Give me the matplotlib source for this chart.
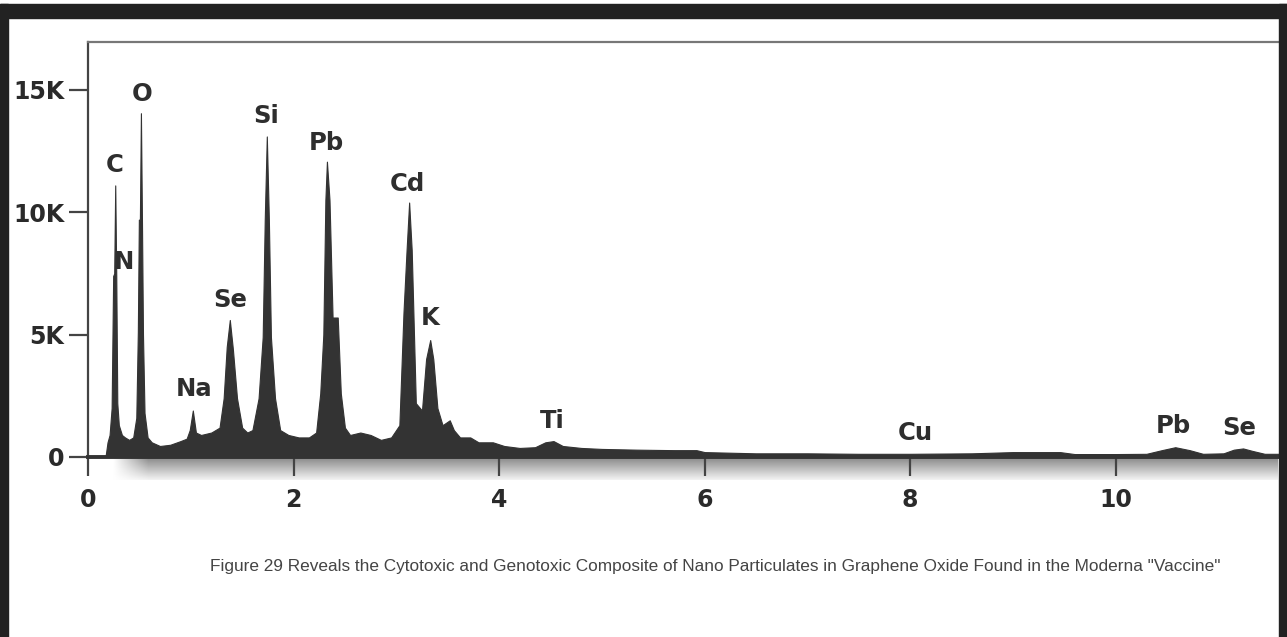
import numpy as np
import matplotlib
matplotlib.use("Agg")
import matplotlib.pyplot as plt
from matplotlib.patches import Rectangle
from matplotlib.ticker import FuncFormatter

# ---- data (energy keV, counts) ----
energy = [0.17, 0.19, 0.21, 0.23, 0.245, 0.255, 0.265, 0.275, 0.285, 0.30, 0.33, 0.36, 0.40, 0.44,
          0.47, 0.485, 0.495, 0.505, 0.515, 0.525, 0.535, 0.55, 0.58, 0.62, 0.70, 0.80, 0.90, 0.96,
          0.99, 1.02, 1.05, 1.10, 1.20, 1.28, 1.32, 1.35, 1.38, 1.41, 1.45, 1.50,
          1.55, 1.60, 1.66, 1.70, 1.72, 1.74, 1.76, 1.78, 1.82, 1.87, 1.95, 2.05,
          2.15, 2.22, 2.26, 2.29, 2.31, 2.325, 2.35, 2.38, 2.43, 2.46, 2.50, 2.55,
          2.65, 2.75, 2.85, 2.95, 3.03, 3.07, 3.10, 3.125, 3.15, 3.19, 3.25, 3.29,
          3.33, 3.36, 3.40, 3.45, 3.52, 3.56, 3.62, 3.72, 3.80, 3.94, 4.05, 4.20,
          4.35, 4.45, 4.53, 4.62, 4.80, 5.00, 5.34, 5.70, 5.92, 6.00, 6.50, 7.00,
          7.50, 8.00, 8.60, 9.00, 9.46, 9.60, 10.00, 10.30, 10.45, 10.58, 10.72,
          10.85, 11.05, 11.15, 11.24, 11.33, 11.45, 11.60]
counts = [0, 600, 900, 2000, 7400, 7500, 11100, 7400, 2200, 1300, 900, 800, 700, 800,
          1600, 5100, 9700, 9700, 14050, 9700, 5000, 1800, 800, 600, 450, 500, 650, 750,
          1100, 1900, 1000, 900, 1000, 1200, 2400, 4500, 5600, 4400, 2400, 1200,
          1000, 1100, 2400, 4900, 9700, 13100, 9700, 4900, 2400, 1100, 900, 800,
          800, 1000, 2600, 5000, 10500, 12070, 10500, 5700, 5700, 2600, 1200, 900,
          1000, 900, 700, 800, 1300, 5900, 8450, 10400, 8450, 2200, 1900, 4000,
          4780, 4000, 2000, 1300, 1500, 1100, 800, 800, 600, 600, 450, 370,
          400, 600, 650, 450, 370, 330, 300, 280, 280, 200, 150, 150,
          130, 130, 150, 200, 200, 120, 120, 130, 280, 400, 280,
          130, 150, 300, 350, 250, 130, 130]

peak_labels = ["C", "O", "N", "Si", "Pb", "Cd", "Se", "Na", "K", "Ti", "Cu", "Pb", "Se"]
label_x = [0.26, 0.53, 0.35, 1.73, 2.32, 3.11, 1.38, 1.03, 3.33, 4.52, 8.05, 10.56, 11.20]
label_y = [11930, 14830, 7970, 13930, 12830, 11160, 6420, 2780, 5700, 1470, 980, 1260, 1180]

x_ticks = [0, 2, 4, 6, 8, 10]
y_ticks = [0, 5000, 10000, 15000]
caption = ('Figure 29 Reveals the Cytotoxic and Genotoxic Composite of Nano Particulates '
           'in Graphene Oxide Found in the Moderna "Vaccine"')

W, H = 1287, 637
fig = plt.figure(figsize=(W / 100, H / 100), dpi=100)
fig.patch.set_facecolor("white")

def fx(px):
    return px / W

def fy(py):
    return 1 - py / H

# gradient shadow under the x axis
gax = fig.add_axes([fx(112), fy(480), fx(1278) - fx(112), fy(458) - fy(480)], zorder=0)
grad_v = np.linspace(0.55, 0.95, 32)[:, None]
grad_h = np.clip(np.linspace(0, 1, 400) / 0.03, 0, 1)[None, :]
img = 1 - (1 - grad_v) * grad_h
gax.imshow(img, cmap="gray", vmin=0, vmax=1, aspect="auto", interpolation="bilinear")
gax.set_axis_off()

ax = fig.add_axes([fx(88), fy(457), fx(1278) - fx(88), fy(42) - fy(457)], zorder=1)
ax.fill_between(energy, counts, 0, color="#333333", linewidth=0.8, edgecolor="#333333")
ax.set_xlim(0, 11.58)
ax.set_ylim(0, 16960)

ax.spines["right"].set_visible(False)
ax.spines["top"].set_color("#777777")
ax.spines["top"].set_linewidth(1.6)
ax.spines["left"].set_color("#444444")
ax.spines["left"].set_linewidth(1.6)
ax.spines["bottom"].set_color("#333333")
ax.spines["bottom"].set_linewidth(2.8)
ax.spines["bottom"].set_zorder(5)

ax.set_xticks(x_ticks)
ax.set_yticks(y_ticks)
ax.yaxis.set_major_formatter(FuncFormatter(lambda v, p: "0" if v == 0 else f"{int(v/1000)}K"))
ax.tick_params(axis="x", direction="out", length=14, width=1.6, color="#444444",
               pad=8, labelsize=17, labelcolor="#2a2a2a")
ax.tick_params(axis="y", direction="out", length=14, width=1.6, color="#444444",
               pad=3, labelsize=17, labelcolor="#2a2a2a")
for lab in ax.get_xticklabels() + ax.get_yticklabels():
    lab.set_fontweight("bold")

for t, xv, yv in zip(peak_labels, label_x, label_y):
    ax.text(xv, yv, t, ha="center", va="center", fontsize=17.5, fontweight="bold",
            color="#2e2e2e", clip_on=False)

fig.text(fx(715), fy(566), caption, ha="center", va="center", fontsize=12.4,
         family="Liberation Sans", color="#444444")

# dark frame
frame = "#222222"
fig.patches.append(Rectangle((0, fy(18)), 1, fy(4) - fy(18), transform=fig.transFigure,
                             color=frame, zorder=10))
fig.patches.append(Rectangle((0, 0), fx(8), fy(4), transform=fig.transFigure,
                             color=frame, zorder=10))
fig.patches.append(Rectangle((fx(1279), 0), 1 - fx(1279), fy(4), transform=fig.transFigure,
                             color=frame, zorder=10))

fig.savefig("out.png", dpi=100, facecolor="white")
